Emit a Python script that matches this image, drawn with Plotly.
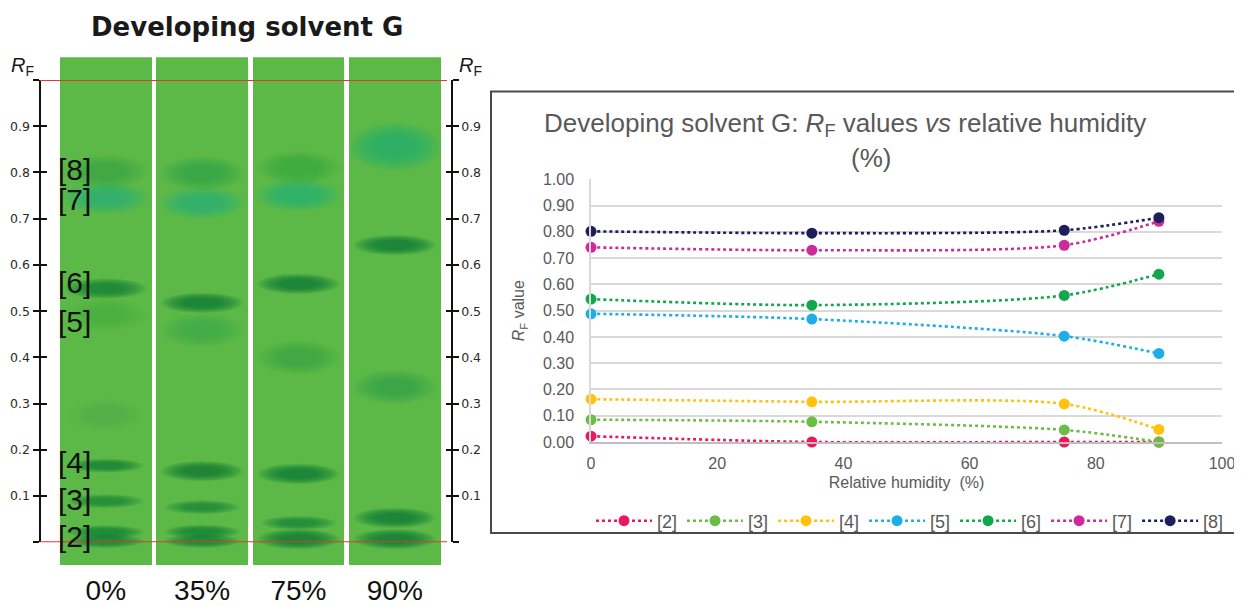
import plotly.graph_objects as go

# ---------------- data ----------------
LANE_LABELS = ["0%", "35%", "75%", "90%"]
HUMIDITY = [0, 35, 75, 90]
COMPOUNDS = ["[2]", "[3]", "[4]", "[5]", "[6]", "[7]", "[8]"]

RF_2 = [0.022, 0.000, 0.000, 0.000]
RF_3 = [0.085, 0.077, 0.046, 0.000]
RF_4 = [0.163, 0.153, 0.145, 0.048]
RF_5 = [0.488, 0.468, 0.403, 0.337]
RF_6 = [0.544, 0.521, 0.558, 0.639]
RF_7 = [0.741, 0.730, 0.749, 0.840]
RF_8 = [0.802, 0.795, 0.806, 0.854]

# spots seen on the TLC plate (lane index, RF, darkness, kind)
SPOT_LANE = [0, 0, 0, 0, 0, 0, 0, 0, 0,
             1, 1, 1, 1, 1, 1, 1, 1,
             2, 2, 2, 2, 2, 2, 2,
             3, 3, 3, 3, 3]
SPOT_RF = [0.003, 0.022, 0.089, 0.166, 0.275, 0.492, 0.549, 0.745, 0.802,
           0.003, 0.023, 0.076, 0.154, 0.459, 0.518, 0.734, 0.798,
           0.007, 0.042, 0.148, 0.400, 0.559, 0.751, 0.810,
           0.007, 0.053, 0.336, 0.643, 0.856]
SPOT_DENSITY = [0.85, 0.85, 0.75, 0.90, 0.06, 0.25, 0.90, 0.65, 0.45,
                0.85, 0.85, 0.75, 0.95, 0.30, 1.00, 0.65, 0.55,
                1.00, 0.80, 1.00, 0.45, 1.00, 0.60, 0.40,
                1.00, 1.00, 0.50, 1.00, 0.75]
SPOT_KIND = ["thin", "thin", "thin", "thin", "haze", "haze", "bold", "teal", "haze",
             "thin", "thin", "thin", "bold", "haze", "bold", "teal", "haze",
             "bold", "thin", "bold", "haze", "bold", "teal", "haze",
             "bold", "bold", "haze", "bold", "cloud"]

LABEL_TEXT = ["[8]", "[7]", "[6]", "[5]", "[4]", "[3]", "[2]"]
LABEL_RF = [0.807, 0.742, 0.563, 0.478, 0.173, 0.093, 0.013]

RF_TICKS = [0.1, 0.2, 0.3, 0.4, 0.5, 0.6, 0.7, 0.8, 0.9]
RF_TICK_TEXT = ["0.1", "0.2", "0.3", "0.4", "0.5", "0.6", "0.7", "0.8", "0.9"]
RF_ENDS = [0.0, 1.0]
PLATE_RF_RANGE = [-0.049, 1.049]
X_TICKS = [0, 20, 40, 60, 80, 100]

# ---------------- styles / geometry ----------------
# the page body has an 8 px margin, so the figure is drawn 8 px in from the window corner
OFF = 8
W, H = 1242 - OFF, 606 - OFF
def px(x):
    return (x - OFF) / W
def py(y):
    return 1 - (y - OFF) / H

LANE0_PX, LANE_PITCH = 105.8, 96.33

SERIES_COLORS = ["#e8195c", "#6cbd45", "#ffc20e", "#1eaee6", "#12a64d", "#cf2a9b", "#1c1f5c"]
KIND_STYLE = {  # half height (RF), half width (lane units), colour
    "thin": (0.013, 0.34, "#0a7a35"),
    "bold": (0.019, 0.37, "#0a7533"),
    "haze": (0.032, 0.38, "#1c9a44"),
    "teal": (0.030, 0.39, "#12b08c"),
    "cloud": (0.045, 0.42, "#10ab7c"),
}
PLATE_GREEN = "#5db947"
FONT = "Liberation Sans"

fig = go.Figure()

# ---- TLC lanes ----
fig.add_trace(go.Bar(
    x=list(range(len(LANE_LABELS))),
    y=[PLATE_RF_RANGE[1] - PLATE_RF_RANGE[0]] * len(LANE_LABELS),
    base=PLATE_RF_RANGE[0], width=0.952,
    marker=dict(color=PLATE_GREEN, line=dict(width=0)),
    xaxis="x", yaxis="y", showlegend=False, hoverinfo="skip"))

# dummy traces so the RF scale axes are drawn
for ax in ["y2", "y3", "y4", "y5"]:
    fig.add_trace(go.Scatter(x=[None], y=[None], xaxis="x", yaxis=ax,
                             showlegend=False, hoverinfo="skip", mode="markers"))

# ---- line chart ----
for name, vals, col in zip(COMPOUNDS, [RF_2, RF_3, RF_4, RF_5, RF_6, RF_7, RF_8], SERIES_COLORS):
    fig.add_trace(go.Scatter(
        x=HUMIDITY, y=vals, name=name, mode="lines+markers",
        line=dict(color=col, width=2.6, dash="dot", shape="spline", smoothing=0.8),
        marker=dict(color=col, size=11),
        xaxis="x2", yaxis="y6", cliponaxis=False))

shapes = []
# blurred spots
LAYERS = 9
for lane, rf, dens, kind in zip(SPOT_LANE, SPOT_RF, SPOT_DENSITY, SPOT_KIND):
    hh, hw, col = KIND_STYLE[kind]
    for k in range(LAYERS):
        f = 1.15 - k * 0.08
        shapes.append(dict(type="circle", xref="x", yref="y",
                           x0=lane - hw * f, x1=lane + hw * f,
                           y0=rf - hh * f, y1=rf + hh * f,
                           fillcolor=col, opacity=dens * 0.13,
                           line=dict(width=0), layer="above"))
# origin and front lines
for rf in RF_ENDS:
    shapes.append(dict(type="line", xref="paper", yref="y2",
                       x0=px(40), x1=px(447), y0=rf, y1=rf,
                       line=dict(color="#dd3a33", width=2), layer="above"))
# frame of line chart
shapes.append(dict(type="rect", xref="paper", yref="paper",
                   x0=px(491), x1=1.01, y0=py(533), y1=py(91.5),
                   line=dict(color="#4a4a4a", width=2), fillcolor="rgba(0,0,0,0)"))

annotations = []
annotations.append(dict(text="<b>Developing solvent G</b>", xref="paper", yref="paper",
                        x=px(247), y=py(27), xanchor="center", yanchor="middle",
                        showarrow=False, font=dict(family="DejaVu Sans", size=26, color="#1a1a1a")))
for xx in [22, 471]:
    annotations.append(dict(text="<i>R</i><sub>F</sub>", xref="paper", yref="paper",
                            x=px(xx), y=py(66), xanchor="center", yanchor="middle",
                            showarrow=False, font=dict(family=FONT, size=20, color="#1a1a1a")))
for txt, rf in zip(LABEL_TEXT, LABEL_RF):
    annotations.append(dict(text=txt, xref="x", yref="y", x=-0.33, y=rf,
                            xanchor="center", yanchor="middle", showarrow=False,
                            font=dict(family=FONT, size=30, color="#111111")))
annotations.append(dict(text="Developing solvent G: <i>R</i><sub>F</sub> values <i>vs</i> relative humidity",
                        xref="paper", yref="paper", x=px(845), y=py(125),
                        xanchor="center", yanchor="middle", showarrow=False,
                        font=dict(family=FONT, size=26, color="#595959")))
annotations.append(dict(text="(%)", xref="paper", yref="paper", x=px(871), y=py(158),
                        xanchor="center", yanchor="middle", showarrow=False,
                        font=dict(family=FONT, size=26, color="#595959")))

rf_axis_common = dict(domain=[py(542.3), py(80)], range=[0, 1], anchor="free",
                      showgrid=False, zeroline=False, fixedrange=True, automargin=False,
                      tickwidth=2, ticklen=6, tickcolor="#111111",
                      tickfont=dict(family="DejaVu Sans", size=12.5, color="#2a2a2a"))
outer_minor = dict(tickvals=RF_ENDS, ticks="outside", ticklen=6, tickwidth=2,
                   tickcolor="#111111", showgrid=False)
inner_ticks = dict(tickvals=RF_TICKS + RF_ENDS, ticks="inside", showline=False,
                   showticklabels=False)

fig.update_layout(
    width=W, height=H, margin=dict(l=0, r=0, t=0, b=0, autoexpand=False),
    paper_bgcolor="white", plot_bgcolor="rgba(0,0,0,0)",
    showlegend=True, bargap=0,
    xaxis=dict(domain=[0, px(490)],
               range=[(OFF - LANE0_PX) / LANE_PITCH, (490 - LANE0_PX) / LANE_PITCH],
               tickvals=list(range(len(LANE_LABELS))), ticktext=LANE_LABELS,
               showgrid=False, zeroline=False, showline=False, ticks="",
               ticklabelstandoff=6, automargin=False,
               tickfont=dict(family=FONT, size=28, color="#111111"), anchor="y"),
    yaxis=dict(domain=[py(565), py(57.3)], range=PLATE_RF_RANGE, visible=False,
               automargin=False),
    yaxis2=dict(position=px(39.5), side="left", ticks="outside", showline=True,
                linecolor="#111111", linewidth=2, tickvals=RF_TICKS, ticktext=RF_TICK_TEXT,
                ticklabelstandoff=0, minor=outer_minor, **rf_axis_common),
    yaxis3=dict(position=px(39.5), side="left", **inner_ticks, **rf_axis_common),
    yaxis4=dict(position=px(451.7), side="right", ticks="outside", showline=True,
                linecolor="#111111", linewidth=2, tickvals=RF_TICKS, ticktext=RF_TICK_TEXT,
                ticklabelstandoff=0, minor=outer_minor, **rf_axis_common),
    yaxis5=dict(position=px(451.7), side="right", **inner_ticks, **rf_axis_common),
    xaxis2=dict(domain=[px(591), px(1222)], range=[0, 100], tickvals=X_TICKS,
                anchor="y6", showgrid=False, zeroline=False, showline=True,
                linecolor="#bfbfbf", linewidth=1.5, ticks="", ticklabelstandoff=6,
                automargin=False,
                tickfont=dict(family=FONT, size=16, color="#595959"),
                title=dict(text="Relative humidity  (%)", standoff=6,
                           font=dict(family=FONT, size=16, color="#595959"))),
    yaxis6=dict(domain=[py(442), py(179.3)], range=[0, 1], dtick=0.1, tickformat=".2f",
                anchor="x2", showgrid=True, gridcolor="#d9d9d9", gridwidth=1.5,
                zeroline=False, showline=True, linecolor="#d9d9d9", linewidth=1.5,
                ticks="", ticklabelstandoff=12, automargin=False,
                tickfont=dict(family=FONT, size=16, color="#595959"),
                title=dict(text="<i>R</i><sub>F</sub> value", standoff=14,
                           font=dict(family=FONT, size=16, color="#595959"))),
    legend=dict(orientation="h", x=px(910), y=py(521), xanchor="center", yanchor="middle",
                bgcolor="rgba(0,0,0,0)", itemwidth=56,
                font=dict(family=FONT, size=18, color="#595959")),
    shapes=shapes, annotations=annotations,
)

fig.write_html("out.html")
